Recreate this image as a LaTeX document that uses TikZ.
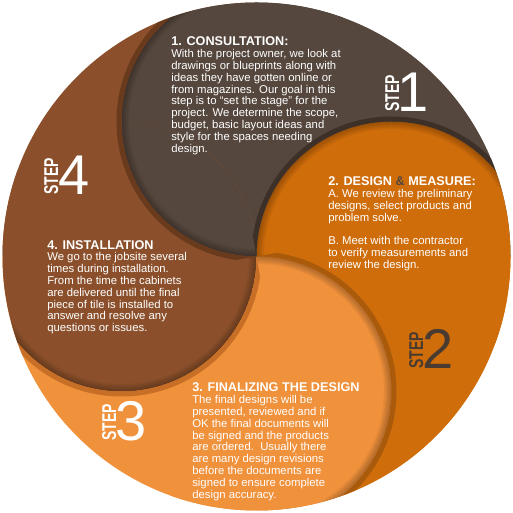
\documentclass[tikz,border=0pt]{standalone}
\usepackage{fontspec}
\setmainfont{Liberation Sans}
\usetikzlibrary{calc}

\definecolor{stepone}{HTML}{55473D}
\definecolor{steptwo}{HTML}{CF6D0B}
\definecolor{stepthree}{HTML}{F0913C}
\definecolor{stepfour}{HTML}{8B502B}
\definecolor{rimone}{HTML}{6A3A1D}
\definecolor{rimtwo}{HTML}{3C3029}
\definecolor{rimthree}{HTML}{A95A0B}
\definecolor{rimfour}{HTML}{C76F26}
\definecolor{darklabel}{HTML}{4A3B30}

\newcommand{\heading}[1]{{\fontsize{9.5}{8.85}\selectfont\bfseries #1}}

\tikzset{
  invclip/.style={insert path={(-20,-20) -- (-20,533) -- (533,533) -- (533,-20) -- cycle}},
  body/.style={text=white, align=left, anchor=north west, inner sep=0pt,
    font=\fontsize{8.5}{8.85}\selectfont},
  num/.style={inner sep=0pt, anchor=base west, font=\fontsize{42}{42}\selectfont},
  steptag/.style={inner sep=0pt, anchor=base west, rotate=90,
    font=\fontsize{15}{15}\selectfont\bfseries}
}

\begin{document}
\begin{tikzpicture}[x=0.75pt,y=0.75pt]
  \useasboundingbox (0,0) rectangle (513,513);
  \def\rr{135}
  \coordinate (O) at (256.5,256.5);
  \foreach \k/\a in {1/90,2/0,3/-90,4/180}
    \coordinate (c\k) at ($(O)+(\a:\rr)$);

  \begin{scope}
    \clip (O) circle (254);
    % tails of the four steps
    \foreach \a/\col in {90/stepone,0/steptwo,-90/stepthree,180/stepfour}
      \fill[\col, shift={(O)}] (0,0) -- (\a:400) -- (\a-45:600) -- (\a-90:400) -- cycle;
    % each disc lies under the next one
    \foreach \k/\n/\col in {1/2/stepone,2/3/steptwo,3/4/stepthree,4/1/stepfour} {
      \begin{scope}
        \clip (c\k) circle (\rr);
        \fill[\col, even odd rule] (c\k) circle (\rr) (c\n) circle (\rr);
      \end{scope}
    }
    % shading and rims along the visible edges
    \foreach \k/\n/\a/\rim in {1/2/90/rimone,2/3/0/rimtwo,3/4/-90/rimthree,4/1/180/rimfour} {
      \begin{scope}
        \clip[shift={(O)}] (0,0) -- (\a:400) -- (\a+50:400) -- (\a+100:400) -- cycle;
        \clip (c\n) circle (\rr) [invclip];
        \begin{scope}
          \clip (c\k) circle (\rr);
          \foreach \w in {3,6,...,15}
            \draw[black, opacity=.05, line width=\w*0.75pt] (c\k) circle (\rr);
        \end{scope}
        \clip (c\k) circle (\rr) [invclip];
        \draw[\rim, line width=7.5pt] (c\k) circle (\rr);
      \end{scope}
    }
  \end{scope}

  \node[body] (consult) at (171,476.2) {\heading{1. CONSULTATION:}\\
    With the project owner, we look at\\
    drawings or blueprints along with\\
    ideas they have gotten online or\\
    from magazines. Our goal in this\\
    step is to ``set the stage'' for the\\
    project. We determine the scope,\\
    budget, basic layout ideas and\\
    style for the spaces needing\\
    design.};
  \node[body] (design) at (328,336.5) {\heading{2. DESIGN \textcolor{stepone}{\&} MEASURE:}\\
    A. We review the preliminary\\
    designs, select products and\\
    problem solve.\\[8.85pt]
    B. Meet with the contractor\\
    to verify measurements and\\
    review the design.};
  \node[body] (final) at (192,130.2) {\heading{3. FINALIZING THE DESIGN}\\
    The final designs will be\\
    presented, reviewed and if\\
    OK the final documents will\\
    be signed and the products\\
    are ordered.\ \ Usually there\\
    are many design revisions\\
    before the documents are\\
    signed to ensure complete\\
    design accuracy.};
  \node[body] (install) at (47,273) {\heading{4. INSTALLATION}\\
    We go to the jobsite several\\
    times during installation.\\
    From the time the cabinets\\
    are delivered until the final\\
    piece of tile is installed to\\
    answer and resolve any\\
    questions or issues.};

  \node[num, text=white] (n1) at (397,401) {1};
  \node[num, text=darklabel] (n2) at (422.3,144) {2};
  \node[num, text=white] (n3) at (115.6,72) {3};
  \node[num, text=white] (n4) at (58.5,318) {4};
  \node[steptag, text=white] (t1) at (399,401) {\scalebox{.7}[1]{STEP}};
  \node[steptag, text=darklabel] (t2) at (423,144) {\scalebox{.7}[1]{STEP}};
  \node[steptag, text=white] (t3) at (116,72) {\scalebox{.7}[1]{STEP}};
  \node[steptag, text=white] (t4) at (58,318) {\scalebox{.7}[1]{STEP}};
\end{tikzpicture}
\end{document}
